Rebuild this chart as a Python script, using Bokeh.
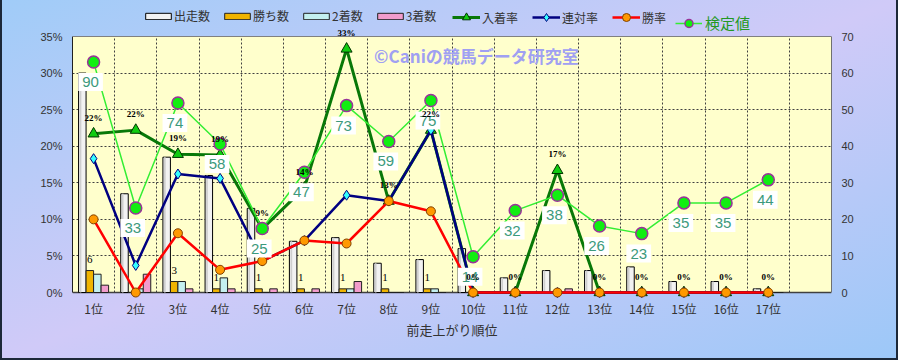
from bokeh.plotting import figure
from bokeh.models import (Range1d, LinearAxis, FixedTicker, ColumnDataSource, LabelSet, Label,
                          Legend, LegendItem, PrintfTickFormatter, Span)
from bokeh.core.properties import value
from bokeh.transform import dodge
from bokeh.embed import file_html
from bokeh.resources import INLINE

# ---------------- data ----------------
categories = ["1位", "2位", "3位", "4位", "5位", "6位", "7位", "8位", "9位",
              "10位", "11位", "12位", "13位", "14位", "15位", "16位", "17位"]
starts = [60, 27, 37, 32, 23, 14, 15, 8, 9, 12, 4, 6, 6, 7, 3, 3, 1]          # 出走数
wins = [6, 0, 3, 1, 1, 1, 1, 1, 1, 0, 0, 0, 0, 0, 0, 0, 0]                    # 勝ち数
seconds = [5, 1, 3, 4, 0, 0, 1, 0, 1, 0, 0, 0, 0, 0, 0, 0, 0]                 # 2着数
thirds = [2, 5, 1, 1, 1, 1, 3, 0, 0, 0, 0, 1, 0, 0, 0, 0, 0]                  # 3着数
place_rate = [21.7, 22.2, 18.9, 18.8, 8.7, 14.3, 33.3, 12.5, 22.2, 0, 0, 16.7, 0, 0, 0, 0, 0]   # 入着率
quinella_rate = [18.3, 3.7, 16.2, 15.6, 4.3, 7.1, 13.3, 12.5, 22.2, 0, 0, 0, 0, 0, 0, 0, 0]    # 連対率
win_rate = [10.0, 0, 8.1, 3.1, 4.3, 7.1, 6.7, 12.5, 11.1, 0, 0, 0, 0, 0, 0, 0, 0]             # 勝率
test_value = [90, 33, 74, 58, 25, 47, 73, 59, 75, 14, 32, 38, 26, 23, 35, 35, 44]               # 検定値
place_labels = ["22%", "22%", "19%", "19%", "9%", "14%", "33%", "13%", "22%", "0%",
                "0%", "17%", "0%", "0%", "0%", "0%", "0%"]
left_ticks = [0, 5, 10, 15, 20, 25, 30, 35]
right_ticks = [0, 10, 20, 30, 40, 50, 60, 70]
test_max = 100
x_title = "前走上がり順位"
watermark = "©Caniの競馬データ研究室"

n = len(categories)
xs = list(range(n))
JP = "Noto Sans CJK JP"
LAT = "Liberation Sans"

H, W = 360, 898
BOTTOM = 62                      # px below the frame
PLOT_H = 256                     # px height of the yellow plot area
BELOW = 6                        # px of frame below the zero line
TOP_PX = H - BOTTOM - BELOW      # px from zero line to image top
LMAX, RMAX = left_ticks[-1], right_ticks[-1]


def rng(vmax):
    ppu = PLOT_H / vmax
    return Range1d(-BELOW / ppu, TOP_PX / ppu)


p = figure(width=W, height=H, output_backend="svg", toolbar_location=None,
           x_range=Range1d(-0.5, 17.5), y_range=rng(LMAX),
           min_border_left=72, min_border_right=67, min_border_top=0, min_border_bottom=BOTTOM,
           background_fill_alpha=0, border_fill_alpha=0, outline_line_color=None)
p.styles = {"background": "linear-gradient(to bottom right, #a0ccf8 0%, #d0caf8 50%, #9cc8f8 100%)",
            "box-shadow": "inset 2px 0 0 #1c2838, inset -2px -2px 0 #1c2838"}
p.extra_y_ranges = {"cnt": rng(RMAX), "test": rng(test_max)}

# yellow plot area
p.quad(left=p.x_range.start, right=p.x_range.end, bottom=0, top=LMAX,
       fill_color="#ffffcc", line_color=None, level="image")

# axes
p.yaxis.ticker = FixedTicker(ticks=left_ticks)
p.yaxis.formatter = PrintfTickFormatter(format="%d%%")
p.yaxis.bounds = (0, LMAX)
ra = LinearAxis(y_range_name="cnt", ticker=FixedTicker(ticks=right_ticks), bounds=(0, RMAX))
p.add_layout(ra, "right")
for ax in (p.yaxis[0], ra):
    ax.major_tick_line_color = None
    ax.minor_tick_line_color = None
    ax.major_tick_out = 0
    ax.minor_tick_out = 0
    ax.major_label_standoff = 10
    ax.major_label_text_font = LAT
    ax.major_label_text_font_size = "11px"
    ax.major_label_text_color = "#333333"
p.yaxis[0].axis_line_color = "#202020"
ra.axis_line_color = "#707070"

xa = p.xaxis[0]
xa.ticker = FixedTicker(ticks=xs)
xa.major_label_overrides = {i: c for i, c in enumerate(categories)}
xa.major_tick_line_color = None
xa.minor_tick_line_color = None
xa.major_tick_out = 0
xa.minor_tick_out = 0
xa.axis_line_color = None
xa.major_label_text_font = JP
xa.major_label_text_font_size = "12px"
xa.major_label_text_color = "#333333"
xa.major_label_standoff = 1
xa.axis_label = x_title
xa.axis_label_text_font = JP
xa.axis_label_text_font_size = "13px"
xa.axis_label_text_font_style = "normal"
xa.axis_label_text_color = "#333333"
xa.axis_label_standoff = 0

# grid
p.ygrid.ticker = FixedTicker(ticks=left_ticks[1:-1])
p.ygrid.grid_line_color = "#404040"
p.ygrid.grid_line_dash = "2 2"
bounds_x = [i + 0.5 for i in xs]
try:
    p.xgrid.ticker = FixedTicker(ticks=bounds_x)
    p.xgrid[0].cross_bounds = (0, LMAX)
    p.xgrid.grid_line_color = "#404040"
    p.xgrid.grid_line_dash = "2 2"
except AttributeError:
    p.xgrid.grid_line_color = None
    p.segment(x0=bounds_x, y0=[0] * n, x1=bounds_x, y1=[LMAX] * n,
              line_color="#404040", line_dash="2 2", level="underlay")
p.add_layout(Span(location=LMAX, dimension="width", line_color="#808080", line_width=1))
p.add_layout(Span(location=0, dimension="width", line_color="#404040", line_width=1.5,
                  level="underlay"))

# bars
bw = 0.178
src = ColumnDataSource(dict(x=xs, starts=starts, wins=wins, seconds=seconds, thirds=thirds,
                            place=place_rate, quin=quinella_rate, win=win_rate, test=test_value,
                            plabel=place_labels,
                            tlabel=[str(v) for v in test_value]))
r_start = p.vbar(x=dodge("x", -0.267), top="starts", width=bw, y_range_name="cnt", source=src,
                 fill_color="#f2f2f2", line_color="#000000", line_width=1)
p.vbar(x=dodge("x", -0.31), top="starts", width=0.04, y_range_name="cnt", source=src,
       fill_color="#cfcfcf", line_color=None)
r_win = p.vbar(x=dodge("x", -0.089), top="wins", width=bw, y_range_name="cnt", source=src,
               fill_color="#f0b400", line_color="#202020", line_width=1)
r_sec = p.vbar(x=dodge("x", 0.089), top="seconds", width=bw, y_range_name="cnt", source=src,
               fill_color="#c4f0f0", line_color="#202020", line_width=1)
r_thr = p.vbar(x=dodge("x", 0.267), top="thirds", width=bw, y_range_name="cnt", source=src,
               fill_color="#f29ccc", line_color="#202020", line_width=1)

# lines
l_place = p.line("x", "place", source=src, line_color="#087808", line_width=3)
m_place = p.scatter("x", "place", source=src, marker="triangle", size=11,
                    fill_color="#11cc11", line_color="#003300", line_width=1)
l_quin = p.line("x", "quin", source=src, line_color="#000080", line_width=2.5)
m_quin = p.scatter("x", "quin", source=src, marker="diamond", size=10,
                   fill_color="#33ffff", line_color="#000080", line_width=1)
l_win = p.line("x", "win", source=src, line_color="#ff0000", line_width=2.5)
m_win = p.scatter("x", "win", source=src, marker="circle", size=9,
                  fill_color="#ff9900", line_color="#804000", line_width=1)
l_test = p.line("x", "test", source=src, y_range_name="test", line_color="#33ee33", line_width=1.5)
m_test = p.scatter("x", "test", source=src, y_range_name="test", marker="circle", size=12,
                   fill_color="#11ee11", line_color="#993399", line_width=1.5)

# labels
p.add_layout(LabelSet(x="x", y="place", text="plabel", source=src, y_offset=16,
                      text_align="center", text_baseline="middle", text_font="DejaVu Sans",
                      text_font_size="9px", text_font_style="bold", text_color="#000000"))
wsrc = ColumnDataSource(dict(x=[i for i in xs if wins[i] > 0],
                             y=[wins[i] for i in xs if wins[i] > 0],
                             t=[str(wins[i]) for i in xs if wins[i] > 0]))
p.add_layout(LabelSet(x=dodge("x", -0.089), y="y", text="t", source=wsrc, y_range_name="cnt",
                      y_offset=11, text_align="center", text_baseline="middle", text_font=LAT,
                      text_font_size="11px", text_color="#000000"))
p.text(x="x", y="test", text="tlabel", source=src, y_range_name="test",
       x_offset=-3, y_offset=20, text_align="center", text_baseline="middle",
       text_font=value(LAT), text_font_size="15px", text_color="#3c9a7c",
       background_fill_color="#ffffff", padding=4)

p.add_layout(Label(x=9.08, y=32.4, text=watermark, text_align="center", text_baseline="middle",
                   text_font=JP, text_font_size="17px", text_font_style="bold",
                   text_color="#a0a0f2"))

# legends (locations in px from the frame's bottom-left corner)
common = dict(orientation="horizontal", padding=0, margin=0, border_line_alpha=0,
              background_fill_alpha=0, label_text_font=JP, label_text_color="#333333")
leg_bars = Legend(items=[LegendItem(label="出走数", renderers=[r_start]),
                         LegendItem(label="勝ち数", renderers=[r_win]),
                         LegendItem(label="2着数", renderers=[r_sec]),
                         LegendItem(label="3着数", renderers=[r_thr])],
                  location=(70, 274), glyph_width=32, glyph_height=8, label_height=14,
                  label_standoff=0, spacing=11, label_text_font_size="12px", **common)
leg_lines = Legend(items=[LegendItem(label="入着率", renderers=[l_place, m_place]),
                          LegendItem(label="連対率", renderers=[l_quin, m_quin]),
                          LegendItem(label="勝率", renderers=[l_win, m_win])],
                   location=(380, 271), glyph_width=28, glyph_height=20, label_height=20,
                   label_standoff=2, spacing=14, label_text_font_size="12px", **common)
leg_test = Legend(items=[LegendItem(label="検定値", renderers=[l_test, m_test])],
                  location=(603, 265), glyph_width=27, glyph_height=20, label_height=20,
                  label_standoff=3, spacing=0, orientation="horizontal", padding=0, margin=0,
                  border_line_alpha=0, background_fill_alpha=0, label_text_font=JP,
                  label_text_font_size="15px", label_text_color="#229922")
for lg in (leg_bars, leg_lines, leg_test):
    p.add_layout(lg)

open("out.html", "w").write(file_html(p, INLINE))
